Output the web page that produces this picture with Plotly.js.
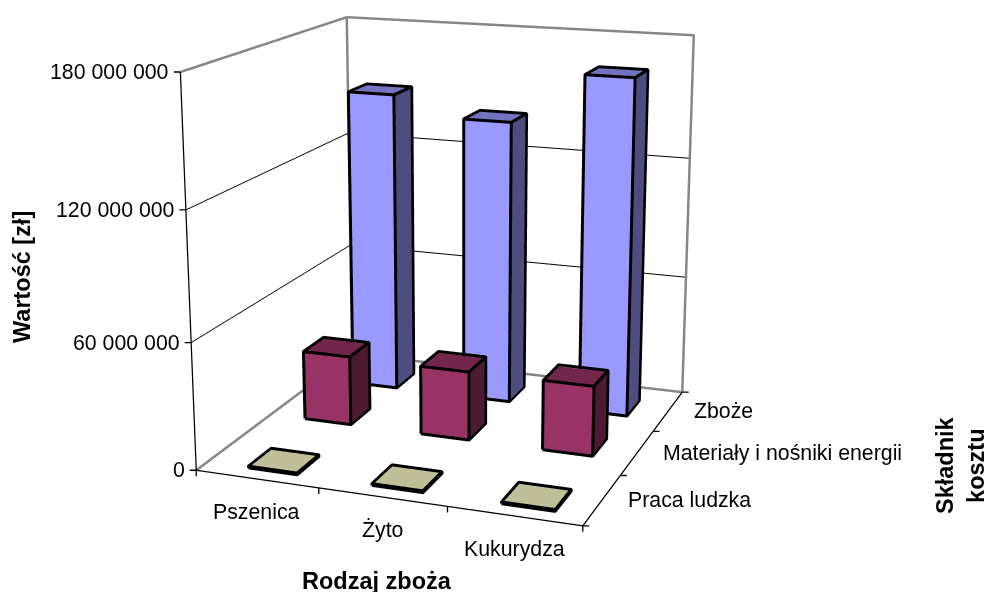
<!DOCTYPE html>
<html>
<head>
<meta charset="utf-8">
<script src="https://cdn.plot.ly/plotly-3.0.1.min.js"></script>
<style>
html,body{margin:0;padding:0;width:989px;height:592px;overflow:hidden;background:#fff}
#chart{position:absolute;left:-305px;top:-522px;width:1536px;height:1536px}
</style>
</head>
<body>
<div id="chart"></div>
<script>
// Costs of grain production by crop and cost component, in PLN.
var crops = ['Pszenica', 'Żyto', 'Kukurydza'];
var components = ['Praca ludzka', 'Materiały i nośniki energii', 'Zboże'];
var labourValues = [800000, 800000, 800000];
var materialsValues = [34000000, 33500000, 33700000];
var grainValues = [150000000, 140500000, 165500000];
var valueTicks = [0, 60000000, 120000000, 180000000];
var valueTickLabels = ['0', '60 000 000', '120 000 000', '180 000 000'];

var WIDTH = 1536, HEIGHT = 1536, LEFT = -305, TOP = -522;
var FONT = 'Liberation Sans, Arial, sans-serif';
var TEXT = '#000000';
var BAR_W = 0.4, BAR_D = 0.4;
// Where each row of bars starts inside its category cell.
var rowStartX = [0.345, 0.30, 0.315];
var rowStartY = [0.18, 0.31, 0.27];
// Faces sit just inside their outlines so the outlines stay in front of them.
var FACE_INSET_X = 0.005, FACE_INSET_Y = 0.015, FACE_INSET_Z = 500000;

// Front, top and side shades of each series.
var shades = [
  {front: '#BFBF99', top: '#BFBF99', side: '#60604C'},
  {front: '#993366', top: '#73264C', side: '#4D1A33'},
  {front: '#9999FF', top: '#7373BF', side: '#4D4D80'}
];
var seriesValues = [labourValues, materialsValues, grainValues];

var traces = [];

function addBar(col, row, value, shade) {
  var x0 = col + rowStartX[row], x1 = x0 + BAR_W, y0 = row + rowStartY[row], y1 = y0 + BAR_D;
  var xs = [x0, x1, x1, x0, x0, x1, x1, x0];
  var ys = [y0, y0, y1, y1, y0, y0, y1, y1];
  var zs = [0, 0, 0, 0, value, value, value, value];
  var top = value - Math.min(FACE_INSET_Z, value * 0.5);
  traces.push({
    type: 'mesh3d',
    x: xs.map(function (v) { return v === x0 ? v + FACE_INSET_X : v - FACE_INSET_X; }),
    y: ys.map(function (v) { return v === y0 ? v + FACE_INSET_Y : v - FACE_INSET_Y; }),
    z: zs.map(function (v) { return v === 0 ? 0 : top; }),
    i: [0, 0, 4, 4, 1, 1, 3, 3, 0, 0, 0, 0],
    j: [1, 5, 5, 6, 2, 6, 2, 6, 3, 7, 1, 2],
    k: [5, 4, 6, 7, 6, 5, 6, 7, 7, 4, 2, 3],
    facecolor: [shade.front, shade.front, shade.top, shade.top, shade.side, shade.side,
                shade.side, shade.side, shade.side, shade.side, shade.side, shade.side],
    flatshading: true,
    lighting: {ambient: 1, diffuse: 0, specular: 0, roughness: 1, fresnel: 0},
    hoverinfo: 'skip', showscale: false
  });
  // Outline of the visible edges.
  var order = [0, 1, 2, 6, 7, 4, 0, null, 1, 5, 4, null, 5, 6];
  traces.push({
    type: 'scatter3d', mode: 'lines',
    x: order.map(function (n) { return n === null ? null : xs[n]; }),
    y: order.map(function (n) { return n === null ? null : ys[n]; }),
    z: order.map(function (n) { return n === null ? null : zs[n]; }),
    line: {color: '#000000', width: 6}, hoverinfo: 'skip', showlegend: false
  });
}

seriesValues.forEach(function (values, row) {
  values.forEach(function (value, col) {
    addBar(col, row, value, shades[row]);
  });
});

// Grey frame of the walls behind the bars.
var zMax = valueTicks[valueTicks.length - 1];
traces.push({
  type: 'scatter3d', mode: 'lines',
  x: [0, 0, 3, 3, null, 0, 0, 3, null, 0, 0],
  y: [0, 3, 3, 3, null, 3, 3, 3, null, 0, 3],
  z: [zMax, zMax, zMax, 0, null, zMax, 0, 0, null, 0, 0],
  line: {color: '#868686', width: 5}, hoverinfo: 'skip', showlegend: false
});
traces.push({
  type: 'scatter3d', mode: 'lines',
  x: [0, 3, null, 0, 0, null, 3, 3],
  y: [0, 0, null, 0, 0, null, 0, 3],
  z: [0, 0, null, 0, zMax, null, 0, 0],
  line: {color: '#000000', width: 2.5}, hoverinfo: 'skip', showlegend: false
});

function axisBase() {
  return {
    title: {text: ''}, showbackground: false, showgrid: false, zeroline: false,
    showline: false, showticklabels: false, showspikes: false, ticks: ''
  };
}
var xAxis = Object.assign(axisBase(), {range: [0, 3], tickvals: [0, 1, 2, 3]});
var yAxis = Object.assign(axisBase(), {range: [0, 3], tickvals: [0, 1, 2, 3]});
var zAxis = Object.assign(axisBase(), {
  range: [0, zMax], tickvals: valueTicks.slice(1, -1),
  showgrid: true, gridcolor: '#000000', gridwidth: 2
});

var labels = [];
function label(text, x, y, z, xshift, yshift, xanchor) {
  labels.push({
    text: text, x: x, y: y, z: z, xshift: xshift, yshift: yshift,
    xanchor: xanchor, yanchor: 'middle', showarrow: false,
    font: {family: FONT, size: 21.3, color: TEXT}
  });
}
// Short tick marks, drawn in screen directions from the axis positions.
function tick(x, y, z, ax, ay) {
  labels.push({
    text: ' ', x: x, y: y, z: z, ax: ax, ay: ay, showarrow: true, arrowhead: 0,
    arrowwidth: 1.3, arrowcolor: '#000000', standoff: 0, startstandoff: 0,
    font: {size: 1}
  });
}
valueTicks.forEach(function (v, n) {
  label(valueTickLabels[n], 0, 0, v, -9, 0, 'right');
  tick(0, 0, v, -8, 0);
});
crops.forEach(function (c, n) { label(c, n + 0.5, 0, 0, 0, -33, 'center'); });
components.forEach(function (c, n) { label(c, 3, n + 0.5, 0, 24, 0, 'left'); });
[0, 1, 2, 3].forEach(function (n) {
  tick(n, 0, 0, 0, 8);
  tick(3, n, 0, 8, 0);
});

function title(text, px, py, angle) {
  return {
    text: text, xref: 'paper', yref: 'paper', showarrow: false,
    x: (px - LEFT) / WIDTH, y: 1 - (py - TOP) / HEIGHT, xanchor: 'center', yanchor: 'middle',
    textangle: angle, align: 'center',
    font: {family: FONT, size: 23.5, color: TEXT}
  };
}

Plotly.newPlot('chart', traces, {
  width: WIDTH, height: HEIGHT,
  margin: {l: 0, r: 0, t: 0, b: 0},
  paper_bgcolor: '#ffffff', showlegend: false, hovermode: false,
  scene: {
    domain: {x: [0, 1], y: [0, 1]},
    aspectmode: 'manual', aspectratio: {x: 1, y: 0.98, z: 1},
    camera: {
      projection: {type: 'perspective'},
      up: {x: 0, y: 0, z: 1},
      center: {x: 0.044, y: -0.045, z: 0.015},
      eye: {x: 1.595, y: -4.313, z: 1.232}
    },
    xaxis: xAxis, yaxis: yAxis, zaxis: zAxis,
    annotations: labels
  },
  annotations: [
    title('<b>Wartość [zł]</b>', 22, 277, -90),
    title('<b>Rodzaj zboża</b>', 377, 581, 0),
    title('<b>Składnik<br>kosztu</b>', 960, 465, -90)
  ]
}, {displayModeBar: false});
</script>
</body>
</html>
